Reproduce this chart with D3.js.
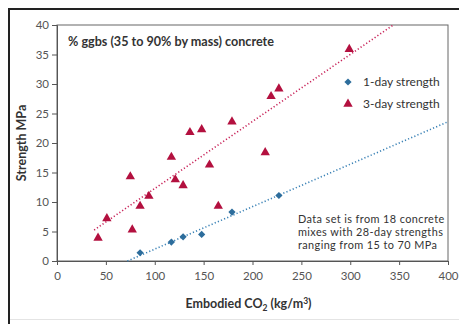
<!DOCTYPE html>
<html><head><meta charset="utf-8">
<script src="https://cdn.jsdelivr.net/npm/d3@7"></script>
<style>body{margin:0;background:#fff} svg{display:block}</style>
</head><body><svg id="c" width="459" height="324"></svg>
<script>
const oneDayX = [85, 117, 129, 148, 179, 227];
const oneDayY = [1.4, 3.2, 4.1, 4.5, 8.3, 11.1];
const threeDayX = [42, 51, 75, 77, 85, 94, 117, 121, 129, 136, 148, 156, 165, 179, 213, 219, 227, 299];
const threeDayY = [3.9, 7.2, 14.3, 5.3, 9.3, 11.0, 17.6, 13.8, 12.8, 21.8, 22.3, 16.3, 9.3, 23.6, 18.4, 27.9, 29.2, 35.9];
const trend3X = [38, 344];
const trend3Y = [5.25, 40];
const trend1X = [72, 400];
const trend1Y = [0, 23.6];
const xTicks = [0, 50, 100, 150, 200, 250, 300, 350, 400];
const yTicks = [0, 5, 10, 15, 20, 25, 30, 35, 40];
const legendLabels = ["1-day strength", "3-day strength"];
const titleText = "% ggbs (35 to 90% by mass) concrete";
const noteLines = ["Data set is from 18 concrete", "mixes with 28-day strengths", "ranging from 15 to 70 MPa"];

const FONT = "Lato, 'Open Sans', sans-serif";
const RED = "#b3103f", BLUE = "#2d6d9c";
const RED_LINE = "#c8245a", BLUE_LINE = "#3b82b6";

const svg = d3.select("#c");
svg.append("rect").attr("width", 459).attr("height", 324).attr("fill", "#fff");

const L = 57, R = 448, T = 25, B = 261;
const x = d3.scaleLinear().domain([0, 400]).range([L, R]);
const y = d3.scaleLinear().domain([0, 40]).range([B, T]);

// outer frame
svg.append("path").attr("d", "M9,324 V9 H459").attr("fill", "none").attr("stroke", "#222").attr("stroke-width", 2);
svg.append("line").attr("x1", 10).attr("x2", 459).attr("y1", 319.5).attr("y2", 319.5).attr("stroke", "#e4e4e4");

// plot border
svg.append("rect").attr("x", L).attr("y", T).attr("width", R - L).attr("height", B - T)
  .attr("fill", "none").attr("stroke", "#666").attr("stroke-width", 1);

const xAxis = svg.append("g").attr("transform", `translate(0,${B})`)
  .call(d3.axisBottom(x).tickValues(xTicks).tickSize(4).tickPadding(7).tickFormat(d3.format("d")));
const yAxis = svg.append("g").attr("transform", `translate(${L},0)`)
  .call(d3.axisLeft(y).tickValues(yTicks).tickSize(5).tickPadding(3).tickFormat(d3.format("d")));
[xAxis, yAxis].forEach(g => {
  g.select(".domain").attr("stroke", "#555");
  g.selectAll(".tick line").attr("stroke", "#555");
  g.selectAll(".tick text").attr("fill", "#555").style("font-family", FONT).style("font-size", "11.5px");
});

// trend lines
const line = d3.line().x(d => x(d[0])).y(d => y(d[1]));
svg.append("path").datum(d3.zip(trend3X, trend3Y)).attr("d", line)
  .attr("fill", "none").attr("stroke", RED_LINE).attr("stroke-width", 1.6)
  .attr("stroke-dasharray", "1.2,2.2");
svg.append("path").datum(d3.zip(trend1X, trend1Y)).attr("d", line)
  .attr("fill", "none").attr("stroke", BLUE_LINE).attr("stroke-width", 1.6)
  .attr("stroke-dasharray", "1.2,2.2");

const tri = d3.symbol().type(d3.symbolTriangle).size(38);
const dia = d3.symbol().type(d3.symbolSquare).size(26);

svg.append("g").selectAll("path").data(d3.zip(threeDayX, threeDayY)).join("path")
  .attr("d", tri).attr("fill", RED).attr("transform", d => `translate(${x(d[0])},${y(d[1])})`);
svg.append("g").selectAll("path").data(d3.zip(oneDayX, oneDayY)).join("path")
  .attr("d", dia).attr("fill", BLUE).attr("transform", d => `translate(${x(d[0])},${y(d[1])}) rotate(45)`);

// title
svg.append("text").attr("x", 68).attr("y", 46).text(titleText)
  .style("font-family", FONT).style("font-size", "12.6px").style("font-weight", "bold").attr("fill", "#333");

// legend
const lg = svg.append("g");
lg.append("path").attr("d", dia).attr("fill", BLUE).attr("transform", "translate(348,82) rotate(45)");
lg.append("path").attr("d", tri).attr("fill", RED).attr("transform", "translate(348,104)");
legendLabels.forEach((t, i) => {
  lg.append("text").attr("x", 363).attr("y", 86 + i * 22).text(t)
    .style("font-family", FONT).style("font-size", "12px").attr("fill", "#333");
});

// note
noteLines.forEach((t, i) => {
  svg.append("text").attr("x", 298).attr("y", 223 + i * 13.2).text(t)
    .style("font-family", FONT).style("font-size", "10.9px").style("letter-spacing", "0.4px").attr("fill", "#333");
});

// axis labels
const xl = svg.append("text").attr("x", (L + R) / 2 - 4).attr("y", 308).attr("text-anchor", "middle")
  .style("font-family", FONT).style("font-size", "12.5px").style("font-weight", "bold").attr("fill", "#333");
xl.append("tspan").text("Embodied CO");
xl.append("tspan").text("2").attr("font-size", "8.5px").attr("dy", 3);
xl.append("tspan").text(" (kg/m").attr("dy", -3);
xl.append("tspan").text("3").attr("font-size", "8.5px").attr("dy", -4);
xl.append("tspan").text(")").attr("dy", 4);

svg.append("text").attr("transform", `translate(26,${(T + B) / 2}) rotate(-90)`).attr("text-anchor", "middle")
  .text("Strength MPa")
  .style("font-family", FONT).style("font-size", "12.5px").style("font-weight", "bold").attr("fill", "#333");
</script></body></html>
